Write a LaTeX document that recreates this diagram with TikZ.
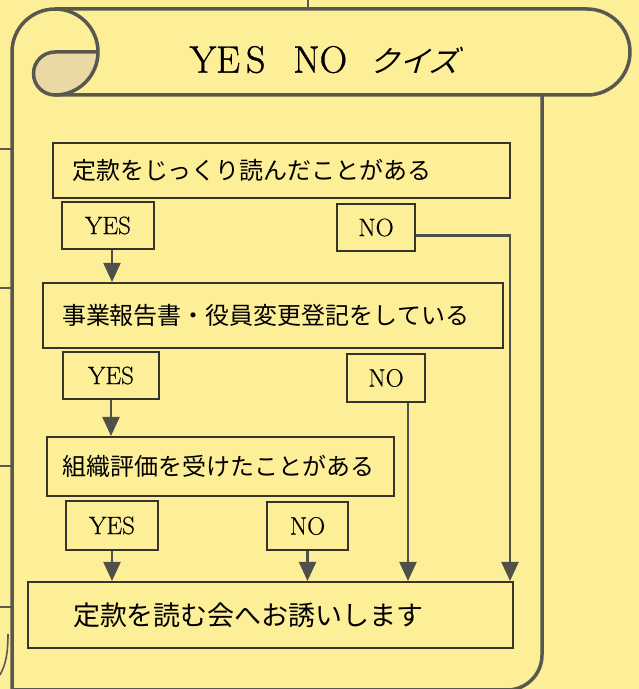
\documentclass[tikz,border=0pt]{standalone}
\usepackage{fontspec}
\newfontfamily\jpfont{Noto Sans CJK JP}
\newfontfamily\jpslantfont[FakeSlant=0.3]{Noto Sans CJK JP}
\newfontfamily\ansfont[FakeBold=0.6]{Latin Modern Roman}
\newfontfamily\titlefont[FakeBold=1.0]{Latin Modern Roman}
\usetikzlibrary{arrows.meta}
\definecolor{bg}{RGB}{253,238,152}
\definecolor{curlc}{RGB}{234,217,165}
\definecolor{scrollc}{RGB}{88,88,78}
\definecolor{boxc}{RGB}{55,53,42}
\definecolor{connc}{RGB}{80,80,74}
\definecolor{fragc}{RGB}{90,90,80}
\begin{document}
\begin{tikzpicture}[x=1pt,y=1pt,
  scrollline/.style={draw=scrollc,line width=3.5pt,line join=round,line cap=round},
  qbox/.style={draw=boxc,line width=2pt,inner ysep=0pt,align=left,
    font=\jpfont\fontsize{24}{24}\selectfont},
  ansbox/.style={draw=boxc,line width=2pt,inner sep=0pt,
    font=\ansfont\fontsize{25}{25}\selectfont},
  conn/.style={draw=connc,line width=2.2pt,-{Triangle[length=19pt,width=17pt]}},
  frag/.style={draw=fragc,line width=1.6pt},
]
\useasboundingbox (0,0) rectangle (639,689);
\fill[bg] (0,0) rectangle (639,689);
\begin{scope}
\clip (0,0) rectangle (639,689);
% fragments of neighbouring page content
\draw[frag] (308,689) -- (308,680);
\draw[frag] (0,540) -- (12,540);
\draw[frag] (0,401) -- (12,401);
\draw[frag] (0,223) -- (12,223);
\draw[frag] (0,82) -- (12,82);
\draw[frag] (8,55) .. controls (8,30) and (4,22) .. (0,14);
% curl shading
\fill[curlc] (55,637) -- (98,637) arc[start angle=0,end angle=-90,radius=43]
  arc[start angle=270,end angle=90,radius=21.5] -- cycle;
% scroll outline
\draw[scrollline] (12,-10) -- (12,637) arc[start angle=180,end angle=90,radius=43]
  -- (587,680) arc[start angle=90,end angle=-90,radius=43] -- (55,594)
  arc[start angle=270,end angle=90,radius=21.5] -- (98,637);
\draw[scrollline] (55,680) arc[start angle=90,end angle=-90,radius=43];
\draw[scrollline] (542,594) -- (542,34) arc[start angle=0,end angle=-90,radius=35] -- (12,-1);
\end{scope}
% title
\node[inner sep=0pt] (title) at (324,629)
  {\titlefont\fontsize{38}{38}\selectfont YE\kern6pt S\hspace{28pt}NO\hspace{22pt}{\jpslantfont\fontsize{30}{30}\selectfont クイズ}};
% question boxes
\node[qbox,inner xsep=19pt,text width=419pt,minimum height=55pt] (q1) at (281.5,518.5) {定款をじっくり読んだことがある};
\node[qbox,inner xsep=19pt,text width=422pt,minimum height=65pt] (q2) at (273,373.5) {事業報告書・役員変更登記をしている};
\node[qbox,inner xsep=16pt,text width=315pt,minimum height=59pt] (q3) at (220.5,222.5) {組織評価を受けたことがある};
\node[qbox,inner xsep=45pt,text width=395pt,minimum height=66pt,
  font=\jpfont\fontsize{27}{27}\selectfont] (q4) at (270.5,74) {定款を読む会へお誘いします};
% answer boxes
\node[ansbox,minimum width=92pt,minimum height=47pt] (y1) at (108,463.5) {YES};
\node[ansbox,minimum width=78pt,minimum height=47pt] (n1) at (376,461.5) {NO};
\node[ansbox,minimum width=96pt,minimum height=47pt] (y2) at (111,313.5) {YES};
\node[ansbox,minimum width=78pt,minimum height=48pt] (n2) at (386,311) {NO};
\node[ansbox,minimum width=92pt,minimum height=49pt] (y3) at (112,163.5) {YES};
\node[ansbox,minimum width=81pt,minimum height=48pt] (n3) at (307.5,163) {NO};
% connectors
\coordinate (c1) at (510,0);
\draw[conn] ([xshift=4pt]y1.south) -- ([xshift=4pt]y1.south |- q2.north);
\draw[conn] ([yshift=-8pt]n1.east) -| (c1 |- q4.north);
\draw[conn] (y2.south) -- (y2.south |- q3.north);
\draw[conn] ([xshift=22pt]n2.south) -- ([xshift=22pt]n2.south |- q4.north);
\draw[conn] (y3.south) -- (y3.south |- q4.north);
\draw[conn] (n3.south) -- (n3.south |- q4.north);
\end{tikzpicture}
\end{document}
